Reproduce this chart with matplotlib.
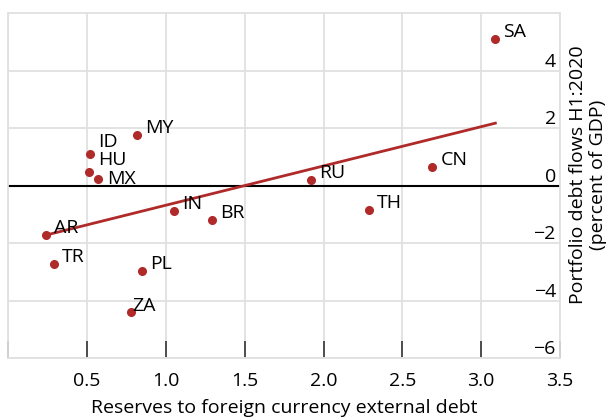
"""
Portfolio debt flows vs reserves scatter
"""
import matplotlib
matplotlib.use('Agg')
import matplotlib.pyplot as plt
import numpy as np

plt.rcParams['font.family'] = ['Open Sans', 'DejaVu Sans']

# data
countries = ['SA', 'CN', 'RU', 'TH', 'MY', 'ID', 'HU', 'MX',
             'IN', 'BR', 'AR', 'TR', 'PL', 'ZA']
reserves = [3.09, 2.69, 1.92, 2.29, 0.815, 0.52, 0.514, 0.571,
            1.05, 1.29, 0.239, 0.288, 0.846, 0.779]
flows = [5.10, 0.66, 0.21, -0.84, 1.77, 1.11, 0.47, 0.23,
         -0.87, -1.19, -1.71, -2.73, -2.96, -4.39]
trend_slope = 1.365
trend_intercept = -2.036

x_ticks = [0, 0.5, 1.0, 1.5, 2.0, 2.5, 3.0, 3.5]
x_tick_labels = ['', '0.5', '1.0', '1.5', '2.0', '2.5', '3.0', '3.5']
y_ticks = [-6, -4, -2, 0, 2, 4]

# label offsets in pixels (dx, dy)
label_offsets = {'ID': (8, 12), 'HU': (9, 12), 'MX': (9, 0), 'ZA': (1, 6)}
default_offset = (8, 7)

RED = '#b02a2a'
GRID = '#e0e0e0'
FS = 14

fig = plt.figure(figsize=(6.1, 4.19), dpi=100)
ax = fig.add_axes([0.0136, 0.1444, 0.9044, 0.8238])

ax.set_xlim(0, 3.5)
ax.set_ylim(-6, 6)

# grid
ax.set_xticks(x_ticks)
ax.set_xticklabels(x_tick_labels)
ax.set_yticks(y_ticks)
ax.grid(True, color=GRID, linewidth=1.3)
ax.set_axisbelow(True)
ax.axhline(0, color='black', linewidth=1.5, zorder=2)

for s in ax.spines.values():
    s.set_color(GRID)
    s.set_linewidth(1.3)

# trend line
xs = np.array([min(reserves), max(reserves)])
ax.plot(xs, trend_slope * xs + trend_intercept, color=RED, linewidth=2, zorder=3)

# points
ax.plot(reserves, flows, 'o', color=RED, markersize=5.5, zorder=4)
for c, x, y in zip(countries, reserves, flows):
    dx, dy = label_offsets.get(c, default_offset)
    ax.annotate(c, (x, y), xytext=(dx, dy), textcoords='offset pixels',
                ha='left', va='center', fontsize=FS, zorder=5)

# ticks
ax.tick_params(axis='x', direction='in', length=12, width=1.2, color='#333333',
               labelsize=FS, pad=10)
ax.yaxis.tick_right()
ax.tick_params(axis='y', which='both', length=0, labelsize=FS, pad=-3)
for lab in ax.get_yticklabels():
    lab.set_horizontalalignment('right')
    lab.set_verticalalignment('bottom')

ax.set_xlabel('Reserves to foreign currency external debt', fontsize=FS, labelpad=6)
fig.text(0.964, 0.582, 'Portfolio debt flows H1:2020\n(percent of GDP)',
         rotation=90, ha='center', va='center', fontsize=FS,
         multialignment='center', linespacing=1.1)

plt.savefig('out.png', dpi=100, facecolor='white')
plt.close()
